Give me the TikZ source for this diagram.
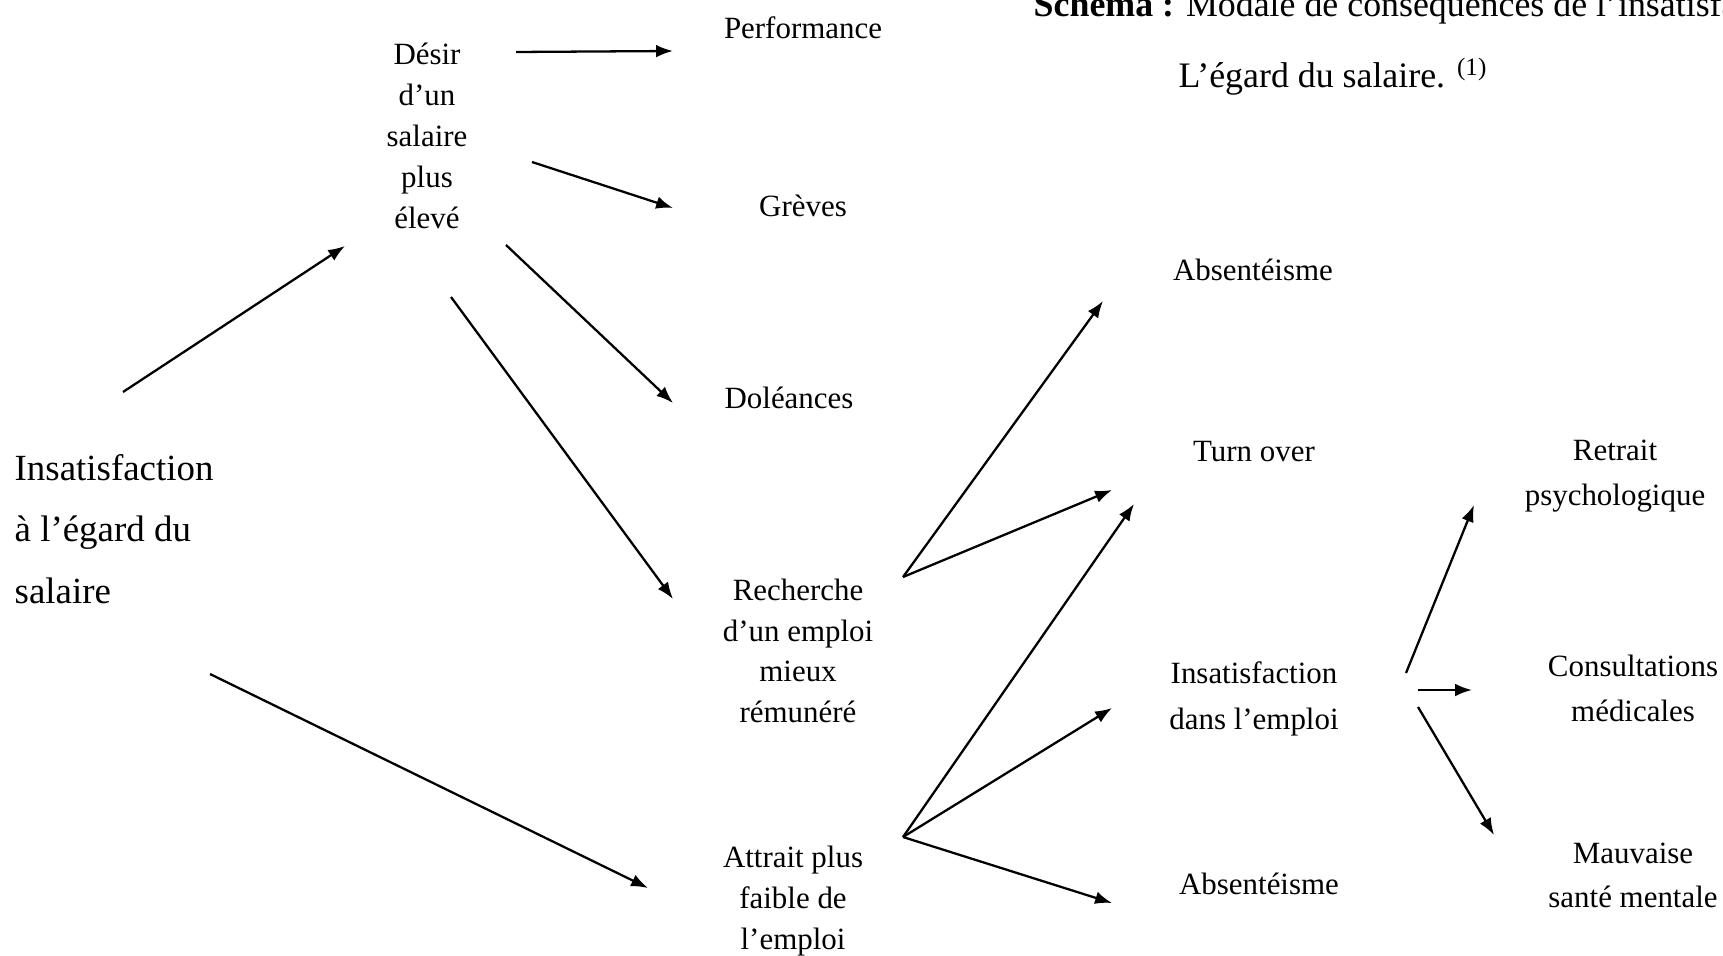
\documentclass[tikz,border=0pt]{standalone}
\usepackage{fontspec}
\setmainfont{Liberation Serif}
\usetikzlibrary{arrows.meta}

\begin{document}
\begin{tikzpicture}[x=0.1mm,y=-0.1mm,>={Latex[length=4.8pt,width=3.6pt]},
        lbl/.style={align=center,inner sep=0pt,font=\fontsize{8.8}{11.6}\selectfont},
        arr/.style={->,line width=0.65pt}]
            \useasboundingbox (0,0) rectangle (1723,955);
            \node (tit) at (1033,17) [anchor=base west,inner sep=0pt,font=\fontsize{10.2}{12}\selectfont] {\textbf{Schema :} Modale de conséquences de l’insatisfaction à};
            \node (tit2) at (1178,88) [anchor=base west,inner sep=0pt,font=\fontsize{10.2}{12}\selectfont] {L’égard du salaire. \textsuperscript{(1)}};
            \node (insat) at (14,529) [anchor=west,align=left,inner sep=0pt,font=\fontsize{10.5}{17.5}\selectfont] {Insatisfaction\\à l’égard du\\salaire};
            \node (desir) at (427,136) [lbl,font=\fontsize{8.8}{11.7}\selectfont] {Désir\\d’un\\salaire\\plus\\élevé};
            \node (perf) at (803,28) [lbl] {Performance};
            \node (grev) at (803,206) [lbl] {Grèves};
            \node (dol) at (789,398) [lbl] {Doléances};
            \node (rech) at (798,651) [lbl] {Recherche\\d’un emploi\\mieux\\rémunéré};
            \node (attr) at (793,901) [lbl] {Attrait plus\\faible de\\l’emploi};
            \node (abs) at (1253,270) [lbl] {Absentéisme};
            \node (turn) at (1254,452) [lbl] {Turn over};
            \node (insemp) at (1254,699) [lbl,font=\fontsize{8.8}{13}\selectfont] {Insatisfaction\\dans l’emploi};
            \node (absb) at (1259,884) [lbl] {Absentéisme};
            \node (retr) at (1615,476) [lbl,font=\fontsize{8.8}{12.8}\selectfont] {Retrait\\psychologique};
            \node (cons) at (1633,688) [lbl,font=\fontsize{8.8}{12.8}\selectfont] {Consultations\\médicales};
            \node (mauv) at (1633,875) [lbl,font=\fontsize{8.8}{12.5}\selectfont] {Mauvaise\\santé mentale};
            \coordinate (i1) at (123,392);
            \coordinate (i2) at (210,674);
            \coordinate (d0) at (345,246);
            \coordinate (d1) at (516,52);
            \coordinate (d2) at (532,162);
            \coordinate (d3) at (506,245);
            \coordinate (d4) at (451,297);
            \coordinate (p0) at (673,51);
            \coordinate (g0) at (673,208);
            \coordinate (l0) at (673,403);
            \coordinate (r0) at (673,599);
            \coordinate (r1) at (903,577);
            \coordinate (a0) at (648,888);
            \coordinate (a1) at (903,837);
            \coordinate (ab0) at (1103,301);
            \coordinate (t0) at (1112,490);
            \coordinate (t1) at (1134,504);
            \coordinate (e0) at (1112,708);
            \coordinate (e1) at (1406,673);
            \coordinate (e2) at (1418,690);
            \coordinate (e3) at (1418,707);
            \coordinate (b0) at (1112,903);
            \coordinate (s0) at (1474,505);
            \coordinate (c0) at (1472,690);
            \coordinate (m0) at (1494,835);
            \draw[arr] (i1) -- (d0);
            \draw[arr] (i2) -- (a0);
            \draw[arr] (d1) -- (p0);
            \draw[arr] (d2) -- (g0);
            \draw[arr] (d3) -- (l0);
            \draw[arr] (d4) -- (r0);
            \draw[arr] (r1) -- (ab0);
            \draw[arr] (r1) -- (t0);
            \draw[arr] (a1) -- (t1);
            \draw[arr] (a1) -- (e0);
            \draw[arr] (a1) -- (b0);
            \draw[arr] (e1) -- (s0);
            \draw[arr] (e2) -- (c0);
            \draw[arr] (e3) -- (m0);
        \end{tikzpicture}
\end{document}
